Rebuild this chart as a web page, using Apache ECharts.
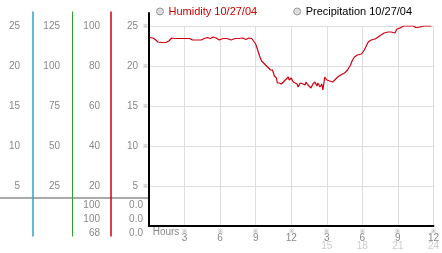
<!DOCTYPE html>
<html><head><meta charset="utf-8">
<script src="https://cdn.jsdelivr.net/npm/echarts@6/dist/echarts.min.js"></script>
<style>html,body{margin:0;padding:0;background:#fff}#c{width:442px;height:253px}</style>
</head><body><div id="c"></div>
<script>
// Hours since midnight (10/27/04)
const hours = [0.08,0.33,0.58,0.75,1.08,1.42,1.67,1.92,2.17,2.58,3.0,3.42,3.67,4.08,4.42,4.67,4.92,5.17,5.42,5.67,5.92,6.25,6.58,6.92,7.25,7.58,7.92,8.17,8.42,8.67,8.83,9.0,9.17,9.33,9.5,9.67,9.92,10.08,10.25,10.42,10.58,10.75,10.83,11.0,11.17,11.33,11.5,11.58,11.75,11.83,12.0,12.17,12.33,12.5,12.58,12.75,12.83,13.0,13.17,13.25,13.42,13.58,13.67,13.83,14.0,14.17,14.25,14.42,14.5,14.58,14.67,14.83,15.0,15.08,15.25,15.33,15.5,15.67,15.92,16.17,16.5,16.75,17.0,17.17,17.33,17.58,17.92,18.17,18.33,18.5,18.75,19.08,19.33,19.58,19.83,20.17,20.42,20.58,20.75,20.92,21.17,21.5,21.92,22.33,22.5,22.67,22.83,23.25,23.83];
// Relative humidity, %
const humidity = [94.25,94,93,92,91.75,91.75,92.5,94,93.75,93.75,93.75,93.75,93,93,93,93.75,94.25,93.75,94.5,94,93,93.75,93.75,93,93.75,93.75,94,93.25,94,93.75,93,91,88,85,82.5,81.5,80,79,78,78,75,74,71.5,71.5,71,72,73,72,74.5,73,74,72,73,71,69.5,71.5,72.5,71,70.5,72,70.5,71.5,69,71,72,70,71.5,69.5,69,71,68,74.5,73,74,72.5,71.5,72,73,74.5,75.5,76.5,78,80.5,83,84.5,85.5,86,88,90,92,93,93.5,94.5,95.5,96.5,97,97,96,96.5,98.5,99,100,100,100,99.25,99.25,100,100,100];
const hourLabels = ['Hours','3','6','9','12','3','6','9','12'];
const hourLabels2 = ['','','','','','15','18','21','24'];
const humidityReadouts = ['100','100','68'];
const precipReadouts = ['0.0','0.0','0.0'];
const legendNames = ['Humidity 10/27/04','Precipitation 10/27/04'];

const F = 'Liberation Sans';
const LBL = '#888';
const C_RED = '#d00010', C_GREEN = '#30a030', C_CYAN = '#30a0cc';

// scale labels (grid 0), no line
function labelAxis(offset, max, interval, margin) {
  return {
    type: 'value', gridIndex: 0, position: 'left', offset: offset,
    min: 0, max: max, interval: interval,
    axisLine: { show: false }, axisTick: { show: false }, splitLine: { show: false },
    axisLabel: { margin: margin, color: LBL, fontSize: 10, fontFamily: F,
      formatter: v => v === 0 ? '' : String(v) }
  };
}
// coloured scale line (grid 2, taller than plot)
function lineAxis(offset, color, width) {
  return {
    type: 'value', gridIndex: 2, position: 'left', offset: offset, min: 0, max: 1, z: 10,
    axisLine: { show: true, onZero: false, lineStyle: { color: color, width: width } },
    axisTick: { show: false }, splitLine: { show: false }, axisLabel: { show: false }
  };
}

const chart = echarts.init(document.getElementById('c'));
chart.setOption({
  animation: false,
  backgroundColor: '#fff',
  textStyle: { fontFamily: F },
  legend: {
    left: 151, top: 1, icon: 'circle', itemWidth: 7, itemHeight: 7, itemGap: 36,
    textStyle: { fontSize: 11, fontFamily: F },
    data: [
      { name: legendNames[0], textStyle: { color: '#cc0000' }, itemStyle: { color: '#ddd', borderColor: '#999', borderWidth: 1 } },
      { name: legendNames[1], textStyle: { color: '#000' }, itemStyle: { color: '#ddd', borderColor: '#999', borderWidth: 1 } }
    ]
  },
  grid: [
    { left: 149, top: 26, width: 288, height: 200 },
    { left: 0, top: 26, width: 149, height: 200 },
    { left: 149, top: 12, width: 288, height: 224 },
    { left: 149, top: 13, width: 288, height: 213 }
  ],
  xAxis: [
    { type: 'value', gridIndex: 0, min: 0, max: 24, interval: 3,
      axisLine: { lineStyle: { color: '#000', width: 2 } },
      axisTick: { show: false },
      splitLine: { show: true, lineStyle: { color: '#ddd', width: 1 } },
      axisLabel: { margin: 2, showMinLabel: true, showMaxLabel: true,
        formatter: function (v) {
          const i = Math.round(v / 3);
          if (i === 0) return '{h|' + hourLabels[0] + '}';
          let s = '{m|※}\n{v|' + hourLabels[i] + '}';
          if (hourLabels2[i]) s += '\n{f|' + hourLabels2[i] + '}';
          return s;
        },
        rich: {
          h: { color: LBL, fontSize: 10, fontFamily: F, lineHeight: 8, padding: [0, 0, 0, 34] },
          m: { color: '#999', fontSize: 6, lineHeight: 6 },
          v: { color: LBL, fontSize: 10, fontFamily: F, lineHeight: 8 },
          f: { color: '#ccc', fontSize: 10, fontFamily: F, lineHeight: 9 }
        }
      }
    },
    { type: 'value', gridIndex: 1, min: 0, max: 1, show: false },
    { type: 'value', gridIndex: 2, min: 0, max: 1, show: false },
    { type: 'value', gridIndex: 3, min: 0, max: 1, show: false }
  ],
  yAxis: [
    { type: 'value', gridIndex: 0, position: 'left', offset: 0, min: 0, max: 25, interval: 5,
      axisLine: { show: false },
      axisTick: { show: false },
      splitLine: { show: true, lineStyle: { color: '#ddd', width: 1 } },
      axisLabel: { margin: 1,
        formatter: v => v === 0 ? '' : '{v|' + v + '}{m|※}',
        rich: {
          v: { color: LBL, fontSize: 10, fontFamily: F },
          m: { color: '#999', fontSize: 6, padding: [0, 0, 0, 5] }
        }
      }
    },
    labelAxis(38, 100, 20, 11),
    labelAxis(77, 125, 25, 12),
    labelAxis(116, 25, 5, 13),
    { type: 'value', gridIndex: 1, min: 0, max: 25, show: false },
    lineAxis(38, C_RED, 1.5),
    lineAxis(77, C_GREEN, 1),
    lineAxis(116, C_CYAN, 1.5),
    { type: 'value', gridIndex: 3, position: 'left', offset: 0, min: 0, max: 1, z: 10,
      axisLine: { show: true, onZero: false, lineStyle: { color: '#000', width: 2 } },
      axisTick: { show: false }, splitLine: { show: false }, axisLabel: { show: false } }
  ],
  series: [
    { name: legendNames[0], type: 'line', xAxisIndex: 0, yAxisIndex: 1,
      data: hours.map((h, i) => [h, humidity[i]]),
      showSymbol: false, color: '#cc0000',
      lineStyle: { color: '#d00010', width: 1.2 }, z: 5 },
    { name: legendNames[1], type: 'line', xAxisIndex: 0, yAxisIndex: 0, data: [], color: '#000' },
    { name: 'separator', type: 'line', xAxisIndex: 1, yAxisIndex: 4, data: [], silent: true,
      markLine: { silent: true, symbol: ['none', 'none'], label: { show: false },
        lineStyle: { color: '#aaa', width: 2, type: 'solid' }, data: [{ yAxis: 3.5 }] } }
  ],
  graphic: humidityReadouts.map((t, i) => ({
      type: 'text', x: 100, y: 205 + 14 * i, z: 20,
      style: { text: t, align: 'right', verticalAlign: 'middle', fill: LBL, fontSize: 10, fontFamily: F }
    })).concat(precipReadouts.map((t, i) => ({
      type: 'text', x: 143, y: 205 + 14 * i, z: 20,
      style: { text: t, align: 'right', verticalAlign: 'middle', fill: LBL, fontSize: 10, fontFamily: F }
    })))
});
</script>
</body></html>
